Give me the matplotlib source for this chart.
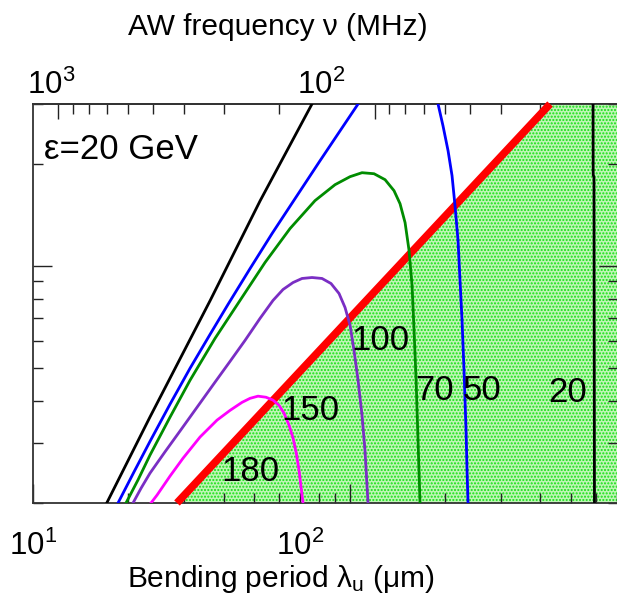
import numpy as np
import matplotlib.pyplot as plt
from matplotlib.ticker import LogLocator, NullFormatter

plt.rcParams['font.family'] = ['Liberation Sans', 'DejaVu Sans']
plt.rcParams['mathtext.fontset'] = 'custom'
plt.rcParams['mathtext.rm'] = 'Liberation Sans'
plt.rcParams['mathtext.it'] = 'Liberation Sans:italic'
plt.rcParams['hatch.linewidth'] = 1.0

# AW frequency (MHz) = v / lambda (um), v in m/s
v_sound = 12000.0

# curves: bending period (um), amplitude (arb. log units)
lam_black_l = [17.1, 23.4, 36.3, 52.2, 76.1]
a_black_l = [0.2, 0.358, 0.791, 1.556, 3.0]
lam_black_r = [588, 588.5, 592, 594]
a_black_r = [3.0, 1.86, 1.82, 0.2]

lam_blue_l = [18.56, 20.85, 23.43, 27.09, 31.34, 36.25, 41.32, 48.51, 56.91,
              67.27, 80.68, 93.33, 106.4]
a_blue_l = [0.2, 0.247, 0.304, 0.391, 0.499, 0.628, 0.770, 0.982, 1.245,
            1.578, 2.041, 2.50, 3.0]
lam_blue_r = [190.4, 197.4, 204.8, 210.8, 215.4, 220.2, 223.4, 226.7, 230.0,
              233.4, 235.1, 236.8]
a_blue_r = [3.0, 2.586, 2.184, 1.844, 1.505, 1.187, 0.906, 0.691, 0.492,
            0.328, 0.250, 0.2]

lam_green = [19.67, 21.47, 23.43, 27.09, 31.34, 37.58, 45.09, 54.07, 64.86,
             77.80, 90.0, 100.4, 109.5, 119.5, 129.5, 138.2, 144.4, 149.8,
             154.2, 157.6, 159.9, 162.3, 164.6, 167.0]
a_green = [0.2, 0.234, 0.277, 0.358, 0.460, 0.611, 0.791, 1.023, 1.288,
           1.557, 1.735, 1.832, 1.882, 1.869, 1.795, 1.666, 1.525, 1.341,
           1.110, 0.875, 0.646, 0.460, 0.306, 0.2]

lam_purple = [20.70, 21.94, 23.43, 26.12, 29.14, 32.98, 37.58, 41.93, 46.76,
              52.14, 57.32, 61.66, 66.30, 70.78, 76.12, 81.87, 87.41, 92.65,
              96.78, 100.4, 103.3, 106.4, 109.5, 111.9, 114.4]
a_purple = [0.2, 0.221, 0.245, 0.283, 0.326, 0.383, 0.454, 0.523, 0.603,
            0.700, 0.791, 0.852, 0.893, 0.918, 0.924, 0.918, 0.887, 0.829,
            0.754, 0.668, 0.564, 0.460, 0.363, 0.286, 0.2]

lam_magenta = [23.59, 24.65, 27.09, 29.78, 33.71, 38.14, 41.92, 45.75, 48.51,
               51.39, 54.47, 57.33, 59.89, 62.11, 64.41, 66.30, 67.76, 69.26,
               70.27, 71.30]
a_magenta = [0.2, 0.211, 0.240, 0.271, 0.313, 0.351, 0.375, 0.396, 0.407,
             0.413, 0.410, 0.402, 0.388, 0.368, 0.339, 0.311, 0.283, 0.250,
             0.223, 0.2]

lam_red = [28.5, 430.0]
a_red = [0.2, 3.0]

labels = ["100", "150", "180", "70", "50", "20"]
label_lam = [124.9, 75.0, 48.5, 186.0, 262.0, 490.0]
label_a = [0.603, 0.375, 0.247, 0.43, 0.43, 0.424]

xmin, xmax = 10, 705
ymin, ymax = 0.2, 3.0

fig = plt.figure(figsize=(6.17, 6.03), dpi=100)
ax = fig.add_axes([33/617, 1-503/603, 585/617, 399/603])
ax.set_xscale('log')
ax.set_yscale('log')
ax.set_xlim(xmin, xmax)
ax.set_ylim(ymin, ymax)

# shaded region right of / below the red line
fx = [lam_red[0], lam_red[1], xmax, xmax]
fy = [a_red[0], a_red[1], ymax, ymin]
ax.fill(fx, fy, facecolor='#bff5b6', edgecolor='#14e014', hatch='.....',
        linewidth=0, zorder=1)

ax.plot(lam_red, a_red, '-', color='#ff0000', lw=5.5, zorder=3,
        clip_on=False, solid_capstyle='butt')

lw = 2.0
ax.plot(lam_black_l, a_black_l, '-', color='black', lw=lw, zorder=4)
ax.plot(lam_black_r, a_black_r, '-', color='black', lw=lw, zorder=4)
ax.plot(lam_blue_l, a_blue_l, '-', color='#0000ff', lw=lw, zorder=4)
ax.plot(lam_blue_r, a_blue_r, '-', color='#0000ff', lw=lw, zorder=4)
ax.plot(lam_green, a_green, '-', color='#008c00', lw=lw, zorder=4)
ax.plot(lam_purple, a_purple, '-', color='#7a2ec4', lw=lw, zorder=4)
ax.plot(lam_magenta, a_magenta, '-', color='#ff00ff', lw=lw, zorder=4)

for s, lx, ly in zip(labels, label_lam, label_a):
    ax.text(lx, ly, s, fontsize=25, ha='center', va='center', zorder=5)

ax.text(0.018, 0.885, 'ε=20 GeV', transform=ax.transAxes, fontsize=25,
        ha='left', va='center')

# ticks
for axis in [ax.xaxis, ax.yaxis]:
    axis.set_major_locator(LogLocator(base=10))
    axis.set_minor_locator(LogLocator(base=10, subs=np.arange(2, 10)))
    axis.set_major_formatter(NullFormatter())
    axis.set_minor_formatter(NullFormatter())
ax.tick_params(which='both', direction='in', top=False, right=True, width=1.0,
               color='#222222')
ax.tick_params(which='major', length=14)
ax.tick_params(which='minor', length=7)

sec = ax.secondary_xaxis('top', functions=(lambda x: v_sound / x,
                                           lambda x: v_sound / x))
sec.xaxis.set_major_locator(LogLocator(base=10))
sec.xaxis.set_minor_locator(LogLocator(base=10, subs=np.arange(2, 10)))
sec.xaxis.set_major_formatter(NullFormatter())
sec.xaxis.set_minor_formatter(NullFormatter())
sec.tick_params(which='both', direction='in', width=1.0, color='#222222')
sec.tick_params(which='major', length=11)
sec.tick_params(which='minor', length=7)

for sp in list(ax.spines.values()) + list(sec.spines.values()):
    sp.set_linewidth(1.3)
    sp.set_color('#333333')

# tick labels as they sit in the picture
def ftext(px, py, s, **kw):
    fig.text(px / 617, 1 - py / 603, s, fontsize=22.5, ha='left', va='baseline', **kw)

ftext(9, 555, r'$\mathregular{10^{1}}$')
ftext(276, 555, r'$\mathregular{10^{2}}$')
ftext(27, 94, r'$\mathregular{10^{3}}$')
ftext(297, 94, r'$\mathregular{10^{2}}$')

fig.text(281 / 617, 1 - 587 / 603, r'Bending period $\mathregular{\lambda_u}$ (μm)',
         fontsize=21.5, ha='center', va='baseline')
fig.text(278 / 617, 1 - 35 / 603, 'AW frequency ν (MHz)',
         fontsize=21.5, ha='center', va='baseline')

fig.savefig('out.png', dpi=100)
